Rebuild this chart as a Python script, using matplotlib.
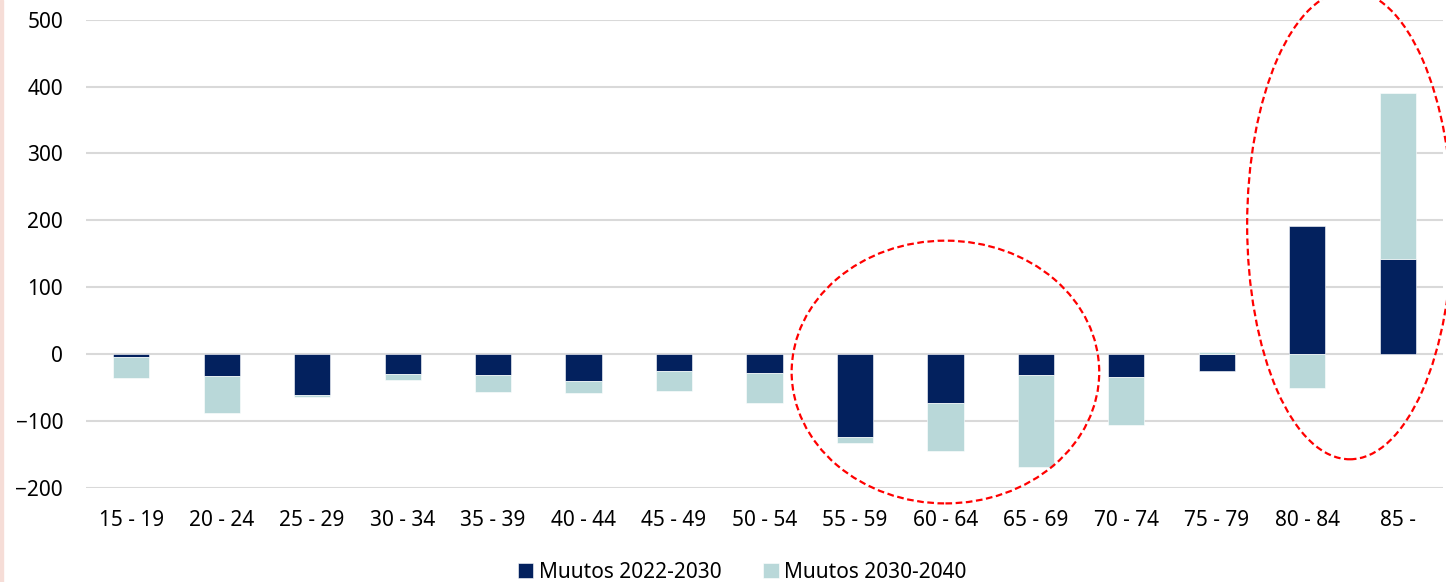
import numpy as np
import matplotlib
matplotlib.use("Agg")
from matplotlib import pyplot as plt
from matplotlib.patches import Ellipse, Rectangle

# age groups and changes per period
ages = ['15 - 19', '20 - 24', '25 - 29', '30 - 34', '35 - 39', '40 - 44', '45 - 49',
        '50 - 54', '55 - 59', '60 - 64', '65 - 69', '70 - 74', '75 - 79', '80 - 84', '85 -']
muutos_2022_2030 = [-4, -33, -61, -30, -31, -40, -25, -29, -124, -74, -32, -35, -26, 191, 142]
muutos_2030_2040 = [-32, -56, -4, -9, -26, -18, -30, -44, -9, -71, -137, -71, 3, -51, 249]
legend_labels = ['Muutos 2022-2030', 'Muutos 2030-2040']

NAVY = '#03215E'
LIGHT = '#B9D8D9'
GRID = '#D9D9D9'

plt.rcParams['font.family'] = ['Noto Sans', 'DejaVu Sans']

W, H = 1446, 582
fig = plt.figure(figsize=(W / 100, H / 100), dpi=100)
ax = fig.add_axes([86 / W, (H - 487.7) / H, (1443 - 86) / W, (487.7 - 19.7) / H])

x = np.arange(len(ages))
d1 = np.array(muutos_2022_2030, dtype=float)
d2 = np.array(muutos_2030_2040, dtype=float)

# excel style stacking: positives on positives, negatives on negatives
bottom2 = np.where(np.sign(d1) == np.sign(d2), d1, 0)

ax.bar(x, d1, width=0.4, color=NAVY, edgecolor='white', linewidth=0.4, zorder=3, label=legend_labels[0])
ax.bar(x, d2, bottom=bottom2, width=0.4, color=LIGHT, edgecolor='white', linewidth=0.4, zorder=3,
       label=legend_labels[1])

ax.set_xlim(-0.5, 14.5)
ax.set_ylim(-200, 500)
ax.set_yticks(range(-200, 501, 100))
ax.set_xticks(x)
ax.set_xticklabels(ages)
ax.grid(axis='y', color=GRID, linewidth=1.5, zorder=0)
ax.set_axisbelow(True)
for s in ax.spines.values():
    s.set_visible(False)
ax.tick_params(axis='both', length=0, labelsize=15, colors='black')
ax.tick_params(axis='y', pad=16.5)
ax.tick_params(axis='x', pad=16)

# red dashed highlight ellipses
for (cx, cy, w, h) in [(9.0, -27, 3.4, 393), (13.47, 193, 2.27, 701)]:
    e = Ellipse((cx, cy), w, h, fill=False, edgecolor='#FF0000', linewidth=1.6,
                linestyle=(0, (3, 1.6)), clip_on=False, zorder=5)
    ax.add_patch(e)

leg = fig.legend(loc='center', bbox_to_anchor=(742 / W, (H - 572) / H), ncol=2, frameon=False,
                 fontsize=15, handlelength=0.75, handleheight=0.75, handletextpad=0.25,
                 columnspacing=2.0)

# faint strip on the left edge
fig.patches.append(Rectangle((0, 0), 3 / W, 1, transform=fig.transFigure, color='#F6DDD7', zorder=0))

fig.savefig('out.png', dpi=100)
